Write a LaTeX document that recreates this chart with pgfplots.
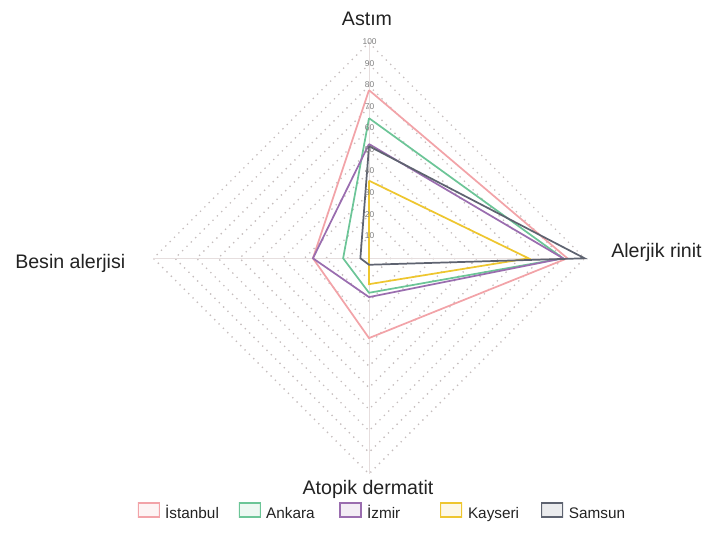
\documentclass[border=0pt]{standalone}
\usepackage{fontspec}
\setmainfont{Liberation Sans}
\usepackage{pgfplots}
\pgfplotsset{compat=1.18}

\definecolor{cist}{HTML}{F2A3A8}
\definecolor{cank}{HTML}{6CC597}
\definecolor{cizm}{HTML}{9A6DAF}
\definecolor{ckay}{HTML}{EEC62F}
\definecolor{csam}{HTML}{5E6370}
\definecolor{cgrid}{HTML}{C6BEBE}
\definecolor{cspoke}{HTML}{E6DEDE}
\definecolor{ctxt}{HTML}{222222}

\begin{document}
\begin{tikzpicture}[x=0.75pt,y=0.75pt]
\useasboundingbox (0,0) rectangle (705,546);
\begin{axis}[
  at={(276.75pt,215.775pt)}, anchor=origin,
  x=1.617pt, y=1.617pt,
  xmin=-100, xmax=100, ymin=-100, ymax=100,
  hide axis, clip=false,
  legend columns=5,
  legend style={at={(axis cs:-107.6,-117.7)}, anchor=west, draw=none, fill=none,
    inner sep=0pt, row sep=0pt,
    nodes={inner sep=0pt, text width=54.75pt, text height=8.3pt, text depth=2.4pt, align=left, font=\fontsize{11.5}{13}\selectfont, text=ctxt}},
  /tikz/every odd column/.append style={column sep=3.9pt},
  legend image code/.code={
    \fill[#1, opacity=0.12] (0pt,-1.6pt) rectangle (15.75pt,8.9pt);
    \draw[#1, line width=0.8pt] (0pt,-1.6pt) rectangle (15.75pt,8.9pt);
  },
]
% grid diamonds
\pgfplotsinvokeforeach{10,20,...,100}{
  \addplot[forget plot, cgrid, line width=1.4pt, line cap=round, dash pattern=on 0pt off 4.6pt]
    coordinates {(0,#1) (#1,0) (0,-#1) (-#1,0) (0,#1)};
}
% spokes
\addplot[forget plot, cspoke, line width=0.6pt] coordinates {(0,-100) (0,100)};
\addplot[forget plot, cspoke, line width=0.6pt] coordinates {(-100,0) (100,0)};

% data: (0,Astim) (Alerjik rinit,0) (0,-Atopik dermatit) (-Besin alerjisi,0)
\addplot[cist, line width=1.3pt, line join=miter] coordinates {(0,78) (92,0) (0,-37) (-26,0) (0,78)};
\addlegendentry{İstanbul}
\addplot[cank, line width=1.3pt, line join=miter] coordinates {(0,65) (90,0) (0,-16) (-12,0) (0,65)};
\addlegendentry{Ankara}
\addplot[cizm, line width=1.3pt, line join=miter] coordinates {(0,53) (90,0) (0,-18) (-26,0) (0,53)};
\addlegendentry{İzmir}
\addplot[ckay, line width=1.3pt, line join=miter] coordinates {(0,36) (74,0) (0,-12) (0,0) (0,36)};
\addlegendentry{Kayseri}
\addplot[csam, line width=1.3pt, line join=miter] coordinates {(0,52) (100,0) (0,-3) (-4,0) (0,52)};
\addlegendentry{Samsun}

% radial tick labels
\pgfplotsinvokeforeach{10,20,...,100}{
  \node[font=\fontsize{6.3}{7}\selectfont, text=gray, inner sep=0pt, yshift=0.8pt] at (axis cs:0.3,#1) {#1};
}
\end{axis}
\node[anchor=base, font=\fontsize{14.7}{17}\selectfont, text=ctxt] at (367,520) {Astım};
\node[anchor=base west, font=\fontsize{14.7}{17}\selectfont, text=ctxt, inner sep=0pt] at (611,288) {Alerjik rinit};
\node[anchor=base west, font=\fontsize{14.7}{17}\selectfont, text=ctxt, inner sep=0pt] at (15,277) {Besin alerjisi};
\node[anchor=base, font=\fontsize{14.7}{17}\selectfont, text=ctxt, inner sep=0pt] at (368,52) {Atopik dermatit};
\end{tikzpicture}
\end{document}
